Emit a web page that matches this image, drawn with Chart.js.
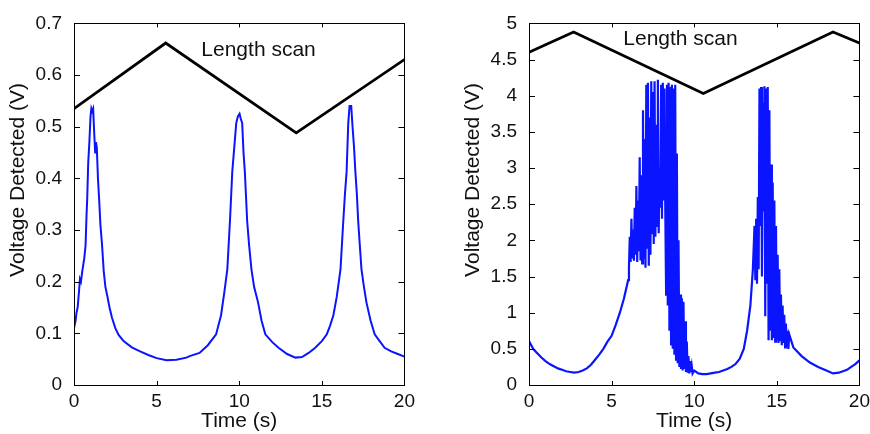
<!DOCTYPE html>
<html>
<head>
<meta charset="utf-8">
<script src="https://cdn.jsdelivr.net/npm/chart.js@4.4.1/dist/chart.umd.min.js"></script>
<style>
  html, body { margin: 0; padding: 0; background: #fff; overflow: hidden; }
  #left { position: absolute; left: 0; top: 0; }
  #right { position: absolute; left: 440px; top: 0; }
</style>
</head>
<body>
<canvas id="left" width="420" height="434"></canvas>
<canvas id="right" width="435" height="434"></canvas>
<script>
// ---- left panel: signal (blue) and length scan (black)
let leftTime = [0, 0.1, 0.15, 0.22, 0.3, 0.36, 0.42, 0.5, 0.62, 0.7, 0.76, 0.8, 0.86, 0.93, 1.0, 1.05, 1.1, 1.16, 1.22, 1.28, 1.33, 1.38, 1.45, 1.52, 1.6, 1.7, 1.8, 1.9, 2.0, 2.15, 2.3, 2.5, 2.7, 3.0, 3.5, 4.0, 4.5, 5.0, 5.6, 6.2, 6.8,
  7.0, 7.6, 8.1, 8.6, 8.9, 9.1, 9.28, 9.44, 9.58, 9.7, 9.82, 9.92, 10.02, 10.1, 10.18, 10.26, 10.34, 10.48, 10.6, 10.74, 10.9, 11.14, 11.35, 11.58, 12.0, 12.38, 12.9, 13.4, 13.8,
  14.2, 14.6, 15.0, 15.3, 15.5, 15.7, 15.9, 16.13, 16.3, 16.4, 16.5, 16.6, 16.68, 16.78, 16.86, 16.95, 17.03, 17.12, 17.2, 17.3, 17.4, 17.55, 17.7, 17.95, 18.2, 18.5, 18.8, 19.2, 19.6, 20];
let leftSignal = [0.11, 0.125, 0.14, 0.15, 0.18, 0.205, 0.2, 0.22, 0.245, 0.27, 0.33, 0.36, 0.43, 0.47, 0.52, 0.535, 0.53, 0.535, 0.49, 0.45, 0.47, 0.46, 0.40, 0.36, 0.31, 0.27, 0.22, 0.19, 0.175, 0.15, 0.13, 0.11, 0.097, 0.085, 0.073, 0.065, 0.058, 0.052, 0.048, 0.049, 0.053,
  0.056, 0.062, 0.077, 0.098, 0.135, 0.18, 0.224, 0.318, 0.413, 0.46, 0.507, 0.52, 0.525, 0.515, 0.507, 0.45, 0.413, 0.318, 0.27, 0.224, 0.19, 0.16, 0.125, 0.098, 0.083, 0.072, 0.06, 0.053, 0.054,
  0.062, 0.072, 0.085, 0.098, 0.115, 0.135, 0.17, 0.224, 0.318, 0.37, 0.413, 0.507, 0.54, 0.54, 0.5, 0.46, 0.413, 0.37, 0.318, 0.27, 0.224, 0.19, 0.16, 0.125, 0.098, 0.085, 0.072, 0.065, 0.06, 0.055];
let leftScanTime = [0, 5.55, 13.45, 20];
let leftScan = [0.535, 0.662, 0.488, 0.63];
let leftYTicks = [0, 0.1, 0.2, 0.3, 0.4, 0.5, 0.6, 0.7];

// ---- right panel
let rightTime = [0, 0.25, 0.5, 0.75, 1, 1.25, 1.5, 1.75, 2, 2.25, 2.5, 2.75, 3, 3.25, 3.5, 3.75, 4, 4.25, 4.5, 4.75, 5, 5.25, 5.5, 5.75, 6.0,
  6.05, 6.10, 6.15, 6.20, 6.25, 6.30, 6.35, 6.40, 6.45, 6.50, 6.55, 6.60, 6.65, 6.70, 6.75, 6.80, 6.85, 6.90, 6.95, 7.00,
  7.05, 7.10, 7.15, 7.20, 7.25, 7.30, 7.35, 7.40, 7.45, 7.50, 7.55, 7.60, 7.65, 7.70, 7.75, 7.80, 7.85, 7.90, 7.95, 8.00,
  8.05, 8.10, 8.15, 8.20, 8.25, 8.30, 8.35, 8.40, 8.45, 8.50, 8.55, 8.60, 8.65, 8.70, 8.75, 8.80, 8.85, 8.90, 8.95, 9.00,
  9.05, 9.10, 9.15, 9.20, 9.25, 9.30, 9.35, 9.40, 9.45, 9.50, 9.55, 9.60, 9.65, 9.70, 9.75, 9.80, 9.85, 9.90,
  10.0, 10.25, 10.5, 10.75, 11, 11.25, 11.5, 11.75, 12, 12.25, 12.5, 12.75, 13, 13.2, 13.4, 13.55, 13.65,
  13.70, 13.75, 13.80, 13.85, 13.90, 13.95, 14.00, 14.05, 14.10, 14.15, 14.20, 14.25, 14.30, 14.35, 14.40, 14.45, 14.50,
  14.55, 14.60, 14.65, 14.70, 14.75, 14.80, 14.85, 14.90, 14.95, 15.00, 15.05, 15.10, 15.15, 15.20, 15.25, 15.30, 15.35,
  15.40, 15.45, 15.50, 15.55, 15.60, 15.65, 15.70, 15.75,
  16, 16.5, 17, 17.5, 18, 18.4, 18.75, 19, 19.25, 19.5, 19.75, 20];
let rightSignal = [0.61, 0.5, 0.44, 0.38, 0.33, 0.29, 0.26, 0.23, 0.21, 0.19, 0.18, 0.17, 0.18, 0.2, 0.23, 0.28, 0.35, 0.42, 0.5, 0.6, 0.68, 0.83, 1.0, 1.2, 1.45,
  1.62, 2.05, 1.70, 2.30, 1.75, 2.15, 1.72, 2.45, 1.80, 2.75, 1.70, 2.55, 1.85, 3.15, 1.72, 2.90, 1.68, 3.80, 1.75, 3.40,
  1.62, 4.15, 1.90, 4.18, 1.65, 3.70, 1.80, 4.20, 2.10, 4.05, 1.95, 4.20, 2.05, 3.60, 2.20, 4.22, 2.10, 3.00, 2.45, 4.15,
  2.30, 4.18, 2.55, 4.10, 2.40, 1.25, 4.15, 1.10, 4.18, 0.75, 4.12, 0.56, 4.15, 0.50, 4.10, 0.42, 4.15, 0.35, 3.20, 0.30,
  2.00, 0.25, 1.25, 0.22, 1.20, 0.20, 1.15, 0.22, 0.88, 0.18, 0.60, 0.17, 0.40, 0.16, 0.33, 0.18, 0.26, 0.16,
  0.2, 0.16, 0.15, 0.15, 0.16, 0.17, 0.18, 0.2, 0.22, 0.25, 0.29, 0.36, 0.5, 0.75, 1.1, 1.6, 2.2,
  1.45, 2.30, 1.40, 2.60, 1.60, 4.10, 2.20, 4.12, 1.50, 3.90, 2.40, 4.13, 0.95, 4.10, 1.40, 4.12, 0.62,
  3.80, 0.75, 3.05, 0.62, 2.80, 0.65, 2.55, 0.60, 2.20, 0.62, 1.80, 0.58, 1.60, 0.62, 1.25, 0.55, 1.10,
  0.58, 0.97, 0.52, 0.85, 0.52, 0.75, 0.50, 0.70,
  0.52, 0.40, 0.31, 0.25, 0.2, 0.16, 0.17, 0.19, 0.21, 0.25, 0.29, 0.34];
let rightScanTime = [0, 2.7, 10.55, 18.4, 20];
let rightScan = [4.6, 4.88, 4.03, 4.88, 4.73];
let rightYTicks = [0, 0.5, 1, 1.5, 2, 2.5, 3, 3.5, 4, 4.5, 5];

let timeTicks = [0, 5, 10, 15, 20];

const FONT = '"Liberation Sans", Arial, Helvetica, sans-serif';
const INK = '#111111';
const BLUE = '#0a14ff';

function pts(xs, ys) {
  return xs.map((x, i) => ({x: x, y: ys[i]}));
}

// matlab style box, inward ticks, axis titles and the "Length scan" note
const framePlugin = {
  id: 'frame',
  afterDraw(chart, args, opts) {
    const ctx = chart.ctx;
    const a = chart.chartArea;
    const x = chart.scales.x, y = chart.scales.y;
    ctx.save();
    ctx.strokeStyle = '#000';
    ctx.lineWidth = 1;
    ctx.strokeRect(Math.round(a.left) + 0.5, Math.round(a.top) + 0.5,
      Math.round(a.right - a.left), Math.round(a.bottom - a.top));
    ctx.beginPath();
    x.ticks.forEach(t => {
      let px = Math.round(x.getPixelForValue(t.value)) + 0.5;
      ctx.moveTo(px, a.bottom); ctx.lineTo(px, a.bottom - 4);
      ctx.moveTo(px, a.top); ctx.lineTo(px, a.top + 4);
    });
    y.ticks.forEach(t => {
      let py = Math.round(y.getPixelForValue(t.value)) + 0.5;
      ctx.moveTo(a.left, py); ctx.lineTo(a.left + 6, py);
      ctx.moveTo(a.right, py); ctx.lineTo(a.right - 6, py);
    });
    ctx.stroke();

    ctx.fillStyle = INK;
    ctx.font = '21px ' + FONT;
    ctx.textAlign = 'center';
    ctx.textBaseline = 'middle';
    ctx.fillText(opts.xTitle, (a.left + a.right) / 2, 421);
    ctx.fillText(opts.note, x.getPixelForValue(opts.noteAt[0]), y.getPixelForValue(opts.noteAt[1]));
    ctx.translate(opts.yTitleX, 180);
    ctx.rotate(-Math.PI / 2);
    ctx.fillText(opts.yTitle, 0, 0);
    ctx.restore();
  }
};

function makeChart(id, signal, scan, yTicks, yMax, yWidth, padRight, noteAt, yTitleX, signalWidth) {
  return new Chart(document.getElementById(id), {
    type: 'line',
    data: {
      datasets: [
        { data: signal, borderColor: BLUE, borderWidth: signalWidth, pointRadius: 0, tension: 0 },
        { data: scan, borderColor: '#000', borderWidth: 2.8, pointRadius: 0, tension: 0 }
      ]
    },
    options: {
      responsive: false,
      animation: false,
      events: [],
      layout: { padding: { top: 15, right: padRight, left: 0, bottom: 0 } },
      plugins: {
        legend: { display: false },
        tooltip: { enabled: false },
        frame: { xTitle: 'Time (s)', yTitle: 'Voltage Detected (V)', note: 'Length scan', noteAt: noteAt, yTitleX: yTitleX }
      },
      scales: {
        x: {
          type: 'linear', min: 0, max: 20,
          afterBuildTicks: s => { s.ticks = timeTicks.map(v => ({value: v})); },
          afterFit: s => { s.height = 49; },
          grid: { display: false, drawTicks: false },
          border: { display: false },
          ticks: { color: INK, font: { family: FONT, size: 19 }, padding: 5, maxRotation: 0,
            callback: v => String(v) }
        },
        y: {
          type: 'linear', min: 0, max: yMax,
          afterBuildTicks: s => { s.ticks = yTicks.map(v => ({value: v})); },
          afterFit: s => { s.width = yWidth; },
          grid: { display: false, drawTicks: false },
          border: { display: false },
          ticks: { color: INK, font: { family: FONT, size: 19 }, padding: 12,
            callback: v => String(v) }
        }
      }
    },
    plugins: [framePlugin]
  });
}

makeChart('left', pts(leftTime, leftSignal), pts(leftScanTime, leftScan), leftYTicks, 0.7, 74, 13, [11.17, 0.649], 18, 2);
makeChart('right', pts(rightTime, rightSignal), pts(rightScanTime, rightScan), rightYTicks, 5, 89, 13, [9.17, 4.78], 33, 2.2);
</script>
</body>
</html>
